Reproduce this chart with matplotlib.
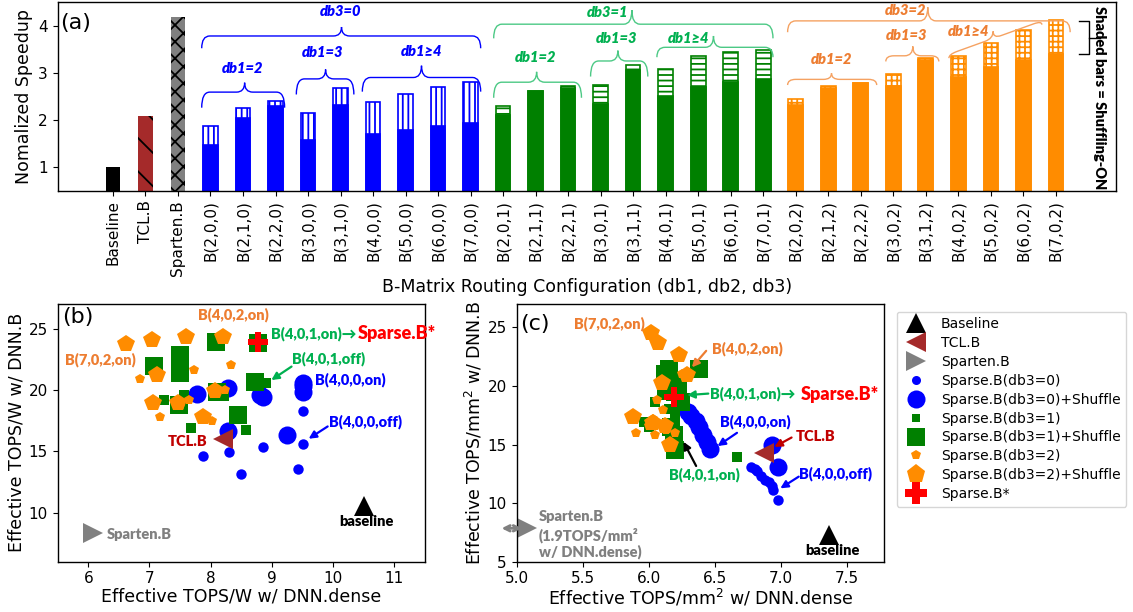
import matplotlib

matplotlib.use("Agg")
import matplotlib.pyplot as plt
from matplotlib.lines import Line2D
from matplotlib.patches import PathPatch
from matplotlib.path import Path

plt.rcParams["hatch.linewidth"] = 1.3
plt.rcParams["hatch.color"] = "black"
plt.rcParams["axes.linewidth"] = 1.0

BLUE = "#0000ff"
GREEN = "#008000"
ORANGE = "#ff8c00"
RED = "#ff0000"
BROWN = "#a52a2a"
GRAY = "#808080"
T_ORANGE = "#ed7d31"
T_GREEN = "#00b050"
T_RED = "#c00000"
BR_GREEN = "#4cc985"
BR_ORANGE = "#f5a262"
ANN = ["Lato", "DejaVu Sans"]
ANN_WEIGHT = "heavy"

# ---------------- (a) speedup bars ----------------
labels = ["Baseline", "TCL.B", "Sparten.B",
          "B(2,0,0)", "B(2,1,0)", "B(2,2,0)", "B(3,0,0)", "B(3,1,0)",
          "B(4,0,0)", "B(5,0,0)", "B(6,0,0)", "B(7,0,0)",
          "B(2,0,1)", "B(2,1,1)", "B(2,2,1)", "B(3,0,1)", "B(3,1,1)",
          "B(4,0,1)", "B(5,0,1)", "B(6,0,1)", "B(7,0,1)",
          "B(2,0,2)", "B(2,1,2)", "B(2,2,2)", "B(3,0,2)", "B(3,1,2)",
          "B(4,0,2)", "B(5,0,2)", "B(6,0,2)", "B(7,0,2)"]
ref_speedup = [1.00, 2.09, 4.18]
speedup_on = [1.88, 2.26, 2.40, 2.15, 2.67, 2.38, 2.55, 2.70, 2.81,
              2.30, 2.61, 2.71, 2.74, 3.17, 3.08, 3.35, 3.45, 3.48,
              2.45, 2.72, 2.79, 2.97, 3.32, 3.35, 3.63, 3.91, 4.11]
speedup_off = [1.47, 2.05, 2.30, 1.58, 2.32, 1.70, 1.79, 1.87, 1.93,
               2.11, 2.61, 2.67, 2.34, 3.05, 2.51, 2.70, 2.80, 2.87,
               2.32, 2.67, 2.79, 2.71, 3.27, 2.92, 3.12, 3.27, 3.40]

# ---------------- (b) TOPS/W scatter ----------------
b_base = (10.5, 10.5)
b_tcl = (8.20, 16.0)
b_sparten = (6.07, 8.3)
b_star = (8.78, 23.9)
b_db0_x = [9.51, 9.51, 8.86, 8.30, 7.88, 8.50, 9.42, 8.30, 8.86]
b_db0_y = [18.32, 15.62, 15.35, 14.91, 14.59, 13.15, 13.55, 16.5, 19.4]
b_db0s_x = [7.78, 8.29, 8.86, 9.50, 9.50, 9.25, 8.29, 8.80, 9.50]
b_db0s_y = [19.67, 20.13, 19.45, 20.59, 19.86, 16.35, 16.62, 19.6, 20.3]
b_db1_x = [7.24, 7.67, 8.57, 8.91, 7.57, 8.21, 7.50, 8.75, 8.10]
b_db1_y = [19.19, 16.89, 16.75, 20.59, 19.60, 19.50, 22.0, 23.78, 23.8]
b_db1s_x = [7.07, 7.50, 7.50, 8.09, 8.10, 8.72, 8.45, 7.49, 8.77]
b_db1s_y = [21.94, 22.84, 21.35, 23.90, 19.86, 20.67, 17.97, 18.78, 23.85]
b_db2_x = [6.85, 7.72, 8.33, 7.17, 7.64, 8.02, 8.23, 7.93, 7.50]
b_db2_y = [20.86, 21.62, 22.0, 17.83, 19.19, 17.43, 20.0, 17.7, 18.7]
b_db2s_x = [6.61, 7.04, 7.60, 8.20, 7.12, 7.06, 7.47, 7.88, 8.07]
b_db2s_y = [23.73, 24.05, 24.27, 24.27, 21.2, 18.97, 18.97, 17.83, 19.91]

# ---------------- (c) TOPS/mm2 scatter ----------------
c_base = (7.36, 7.3)
c_tcl = (6.87, 14.3)
c_sparten = (5.08, 7.85)
c_star = (6.19, 19.1)
c_db0_x = [6.77, 6.82, 6.85, 6.88, 6.91, 6.94, 6.98, 6.80, 6.93]
c_db0_y = [13.1, 12.7, 12.35, 12.0, 11.8, 11.1, 10.3, 12.9, 11.5]
c_db0s_x = [6.30, 6.32, 6.36, 6.38, 6.41, 6.44, 6.46, 6.93, 6.98]
c_db0s_y = [17.8, 17.4, 17.0, 16.5, 15.8, 15.2, 14.6, 15.0, 13.1]
c_db1_x = [6.67, 6.05, 5.96, 6.00, 6.15, 6.20, 6.22, 6.10, 6.25]
c_db1_y = [13.96, 18.65, 16.95, 16.5, 18.0, 17.4, 15.0, 19.2, 19.5]
c_db1s_x = [6.15, 6.38, 6.20, 6.24, 6.17, 6.19, 6.20, 6.22, 6.12]
c_db1s_y = [21.42, 21.42, 19.5, 18.65, 16.52, 15.81, 14.53, 20.3, 21.0]
c_db2_x = [6.06, 6.11, 5.90, 6.03, 6.00, 6.13, 6.05, 6.20, 6.25]
c_db2_y = [18.8, 17.94, 15.96, 17.2, 16.6, 16.2, 15.8, 16.0, 21.0]
c_db2s_x = [6.02, 6.07, 6.23, 6.29, 6.10, 5.88, 6.03, 6.12, 6.16]
c_db2s_y = [24.49, 23.63, 22.64, 20.93, 20.22, 17.37, 16.81, 16.58, 14.96]


def brace(ax, x0, x1, y0, y1, hook, tip, xm, color, d=0.25, lw=1.0):
    def yl(x):
        return y0 + (y1 - y0) * (x - x0) / (x1 - x0)

    pts = [(x0, yl(x0) - hook), (x0, yl(x0)), (x0 + d, yl(x0 + d)),
           (xm - d, yl(xm - d)), (xm, yl(xm)), (xm, yl(xm) + tip),
           (xm, yl(xm)), (xm + d, yl(xm + d)),
           (x1 - d, yl(x1 - d)), (x1, yl(x1)), (x1, yl(x1) - hook)]
    codes = [Path.MOVETO, Path.CURVE3, Path.CURVE3, Path.LINETO,
             Path.CURVE3, Path.CURVE3, Path.CURVE3, Path.CURVE3,
             Path.LINETO, Path.CURVE3, Path.CURVE3]
    ax.add_patch(PathPatch(Path(pts, codes), fill=False, edgecolor=color,
                           lw=lw, clip_on=False))


def label(ax, x, y, s, color, size=10.5, ha="left", style="normal"):
    ax.text(x, y, s, color=color, fontsize=size, fontweight=ANN_WEIGHT,
            family=ANN, ha=ha, va="center", style=style)


def arrow(ax, xy, xytext, color):
    ax.annotate("", xy=xy, xytext=xytext,
                arrowprops=dict(arrowstyle="-|>", color=color, lw=1.6,
                                mutation_scale=11, shrinkA=0, shrinkB=0))


fig = plt.figure(figsize=(11.33, 6.12), dpi=100)

# ======== (a) ========
ax = fig.add_axes([0.0509, 0.6884, 0.9341, 0.3083])
ax.bar(0, ref_speedup[0], 0.44, facecolor="black", linewidth=0)
ax.bar(1, ref_speedup[1], 0.44, facecolor=BROWN, hatch="\\", linewidth=0)
ax.bar(2, ref_speedup[2], 0.44, facecolor=GRAY, hatch="xx", linewidth=0)
groups = [(BLUE, "|||"), (GREEN, "---"), (ORANGE, "+++")]
for k, (on, off) in enumerate(zip(speedup_on, speedup_off)):
    col, hat = groups[k // 9]
    ax.bar(k + 3, on, 0.45, facecolor="white", edgecolor=col, hatch=hat, lw=1.2)
    ax.bar(k + 3, off, 0.45, facecolor=col, edgecolor=col, lw=1.2)

ax.set_xlim(-1.7, 30.85)
ax.set_ylim(0.5, 4.5)
ax.set_yticks([1, 2, 3, 4])
ax.set_xticks(range(len(labels)))
ax.set_xticklabels(labels, rotation=90, fontsize=11)
ax.tick_params(axis="y", labelsize=11)
ax.set_ylabel("Nomalized Speedup", fontsize=12.5)
ax.set_xlabel("B-Matrix Routing Configuration (db1, db2, db3)", fontsize=12.5,
              labelpad=1)
ax.text(-1.62, 4.06, "(a)", fontsize=16, va="center", ha="left")

# group braces
brace(ax, 2.73, 11.31, 3.78, 3.78, 0.26, 0.19, 7.03, BLUE)
brace(ax, 2.73, 5.28, 2.59, 2.59, 0.33, 0.20, 4.05, BLUE)
brace(ax, 5.64, 7.41, 2.87, 2.87, 0.33, 0.20, 6.54, BLUE)
brace(ax, 7.67, 11.31, 2.90, 2.90, 0.30, 0.25, 9.49, BLUE)
label(ax, 7.0, 4.29, "db3=0", BLUE, ha="center", style="italic")
label(ax, 4.0, 3.09, "db1=2", BLUE, ha="center", style="italic")
label(ax, 6.45, 3.44, "db1=3", BLUE, ha="center", style="italic")
label(ax, 9.5, 3.46, "db1≥4", BLUE, ha="center", style="italic")

brace(ax, 11.71, 20.3, 4.03, 4.03, 0.30, 0.30, 15.96, BR_GREEN)
brace(ax, 11.71, 14.41, 2.80, 2.80, 0.33, 0.22, 13.03, BR_GREEN)
brace(ax, 14.69, 16.45, 3.25, 3.25, 0.33, 0.22, 15.53, BR_GREEN)
brace(ax, 16.73, 20.3, 3.54, 3.54, 0.21, 0.24, 18.47, BR_GREEN)
label(ax, 15.2, 4.28, "db3=1", T_GREEN, ha="center", style="italic")
label(ax, 13.0, 3.33, "db1=2", T_GREEN, ha="center", style="italic")
label(ax, 15.5, 3.73, "db1=3", T_GREEN, ha="center", style="italic")
label(ax, 17.7, 3.73, "db1≥4", T_GREEN, ha="center", style="italic")

brace(ax, 20.75, 29.44, 4.10, 4.10, 0.24, 0.29, 25.06, BR_ORANGE)
brace(ax, 20.75, 23.49, 2.86, 2.86, 0.12, 0.13, 22.1, BR_ORANGE)
brace(ax, 23.77, 25.4, 3.36, 3.36, 0.12, 0.20, 24.6, BR_ORANGE)
brace(ax, 25.71, 28.57, 3.39, 4.10, 0.08, 0.15, 27.07, BR_ORANGE)
label(ax, 24.37, 4.32, "db3=2", T_ORANGE, ha="center", style="italic")
label(ax, 22.1, 3.29, "db1=2", T_ORANGE, ha="center", style="italic")
label(ax, 24.4, 3.78, "db1=3", T_ORANGE, ha="center", style="italic")
label(ax, 26.3, 3.88, "db1≥4", T_ORANGE, ha="center", style="italic")

# "shaded bars" note
ax.plot([29.72, 30.02, 30.02, 29.72], [4.10, 4.10, 3.39, 3.39], color="black",
        lw=1.0)
ax.plot([30.02, 30.35], [3.745, 3.745], color="black", lw=1.0)
ax.text(30.33, 2.48, "Shaded bars = Shuffling-ON", rotation=-90, fontsize=10.5,
        fontweight=ANN_WEIGHT, family=ANN, ha="center", va="center")


def scatter_panel(ax, data):
    (db0x, db0y, db0sx, db0sy, db1x, db1y, db1sx, db1sy,
     db2x, db2y, db2sx, db2sy) = data
    kw = dict(ls="none", mew=0)
    ax.plot(db0sx, db0sy, "o", color=BLUE, ms=13, **kw)
    ax.plot(db0x, db0y, "o", color=BLUE, ms=7.5, **kw)
    ax.plot(db1sx, db1sy, "s", color=GREEN, ms=13, **kw)
    ax.plot(db1x, db1y, "s", color=GREEN, ms=6.7, **kw)
    ax.plot(db2sx, db2sy, "p", color=ORANGE, ms=13, **kw)
    ax.plot(db2x, db2y, "p", color=ORANGE, ms=7, **kw)


def refs(ax, base, tcl, sparten, star):
    kw = dict(ls="none", mew=0)
    ax.plot(*base, "^", color="black", ms=15, **kw)
    ax.plot(*tcl, "<", color=BROWN, ms=15, **kw)
    ax.plot(*sparten, ">", color=GRAY, ms=15, **kw)
    ax.plot(*star, "P", color=RED, ms=14, **kw)


# ======== (b) ========
axb = fig.add_axes([0.0509, 0.0822, 0.3242, 0.4211])
scatter_panel(axb, (b_db0_x, b_db0_y, b_db0s_x, b_db0s_y, b_db1_x, b_db1_y,
                    b_db1s_x, b_db1s_y, b_db2_x, b_db2_y, b_db2s_x, b_db2s_y))
refs(axb, b_base, b_tcl, b_sparten, b_star)
axb.set_xlim(5.5, 11.5)
axb.set_ylim(6, 27)
axb.set_xticks([6, 7, 8, 9, 10, 11])
axb.set_yticks([10, 15, 20, 25])
axb.tick_params(labelsize=11)
axb.set_xlabel("Effective TOPS/W w/ DNN.dense", fontsize=12.5, labelpad=1)
axb.set_ylabel("Effective TOPS/W w/ DNN.B", fontsize=12.5, labelpad=2)
axb.text(5.58, 25.9, "(b)", fontsize=16, va="center", ha="left")
label(axb, 8.37, 26.15, "B(4,0,2,on)", T_ORANGE, ha="center")
label(axb, 6.2, 22.49, "B(7,0,2,on)", T_ORANGE, ha="center")
label(axb, 8.99, 24.6, "B(4,0,1,on)→", T_GREEN)
label(axb, 10.40, 24.6, "Sparse.B*", RED, size=13)
label(axb, 9.32, 22.57, "B(4,0,1,off)", T_GREEN)
arrow(axb, (8.99, 20.8), (9.32, 21.9), T_GREEN)
label(axb, 9.70, 20.81, "B(4,0,0,on)", BLUE)
label(axb, 9.94, 17.43, "B(4,0,0,off)", BLUE)
arrow(axb, (9.60, 16.02), (9.91, 17.02), BLUE)
label(axb, 7.94, 15.8, "TCL.B", T_RED, ha="right")
label(axb, 6.31, 8.19, "Sparten.B", GRAY)
label(axb, 10.55, 9.24, "baseline", "black", ha="center")

# ======== (c) ========
axc = fig.add_axes([0.456, 0.0822, 0.3243, 0.4211])
scatter_panel(axc, (c_db0_x, c_db0_y, c_db0s_x, c_db0s_y, c_db1_x, c_db1_y,
                    c_db1s_x, c_db1s_y, c_db2_x, c_db2_y, c_db2s_x, c_db2s_y))
refs(axc, c_base, c_tcl, c_sparten, c_star)
axc.set_xlim(5.0, 7.78)
axc.set_ylim(5, 27)
axc.set_xticks([5.0, 5.5, 6.0, 6.5, 7.0, 7.5])
axc.set_yticks([5, 10, 15, 20, 25])
axc.tick_params(labelsize=11)
axc.set_xlabel("Effective TOPS/mm$^2$ w/ DNN.dense", fontsize=12.5, labelpad=1)
axc.set_ylabel("Effective TOPS/mm$^2$ w/ DNN.B", fontsize=12.5, labelpad=2)
axc.text(5.025, 25.28, "(c)", fontsize=16, va="center", ha="left")
label(axc, 5.70, 25.34, "B(7,0,2,on)", T_ORANGE, ha="center")
label(axc, 6.477, 23.21, "B(4,0,2,on)", T_ORANGE)
arrow(axc, (6.326, 21.59), (6.434, 23.0), T_ORANGE)
label(axc, 6.465, 19.31, "B(4,0,1,on)→", T_GREEN)
arrow(axc, (6.29, 19.22), (6.45, 19.35), T_GREEN)
label(axc, 7.146, 19.31, "Sparse.B*", RED, size=13)
label(axc, 6.54, 16.95, "B(4,0,0,on)", BLUE)
arrow(axc, (6.52, 14.87), (6.667, 16.0), BLUE)
label(axc, 7.11, 15.67, "TCL.B", T_RED)
arrow(axc, (6.95, 14.8), (7.08, 15.6), T_RED)
label(axc, 7.134, 12.49, "B(4,0,0,off)", BLUE)
arrow(axc, (6.995, 11.26), (7.134, 12.26), BLUE)
label(axc, 6.42, 12.40, "B(4,0,1,on)", T_GREEN, ha="center")
arrow(axc, (6.262, 15.24), (6.358, 13.17), "black")
label(axc, 5.17, 8.85, "Sparten.B", GRAY)
label(axc, 5.17, 7.28, "(1.9TOPS/mm²", GRAY)
label(axc, 5.17, 5.86, "w/ DNN.dense)", GRAY)
axc.annotate("", xy=(4.886, 7.85), xytext=(5.04, 7.85), annotation_clip=False,
             arrowprops=dict(arrowstyle="<->", color=GRAY, lw=2,
                             mutation_scale=10, shrinkA=0, shrinkB=0))
label(axc, 7.39, 5.94, "baseline", "black", ha="center")

# ======== legend ========
handles = [
    Line2D([], [], ls="none", marker="^", color="black", ms=15, mew=0),
    Line2D([], [], ls="none", marker="<", color=BROWN, ms=15, mew=0),
    Line2D([], [], ls="none", marker=">", color=GRAY, ms=15, mew=0),
    Line2D([], [], ls="none", marker="o", color=BLUE, ms=6.5, mew=0),
    Line2D([], [], ls="none", marker="o", color=BLUE, ms=13, mew=0),
    Line2D([], [], ls="none", marker="s", color=GREEN, ms=5.5, mew=0),
    Line2D([], [], ls="none", marker="s", color=GREEN, ms=13, mew=0),
    Line2D([], [], ls="none", marker="p", color=ORANGE, ms=7, mew=0),
    Line2D([], [], ls="none", marker="p", color=ORANGE, ms=14, mew=0),
    Line2D([], [], ls="none", marker="P", color=RED, ms=16, mew=0),
]
names = ["Baseline", "TCL.B", "Sparten.B", "Sparse.B(db3=0)",
         "Sparse.B(db3=0)+Shuffle", "Sparse.B(db3=1)", "Sparse.B(db3=1)+Shuffle",
         "Sparse.B(db3=2)", "Sparse.B(db3=2)+Shuffle", "Sparse.B*"]
fig.legend(handles, names, loc="upper left", bbox_to_anchor=(0.7914, 0.4907),
           fontsize=10, labelspacing=0.35, borderaxespad=0)

fig.savefig("out.png", dpi=100)
